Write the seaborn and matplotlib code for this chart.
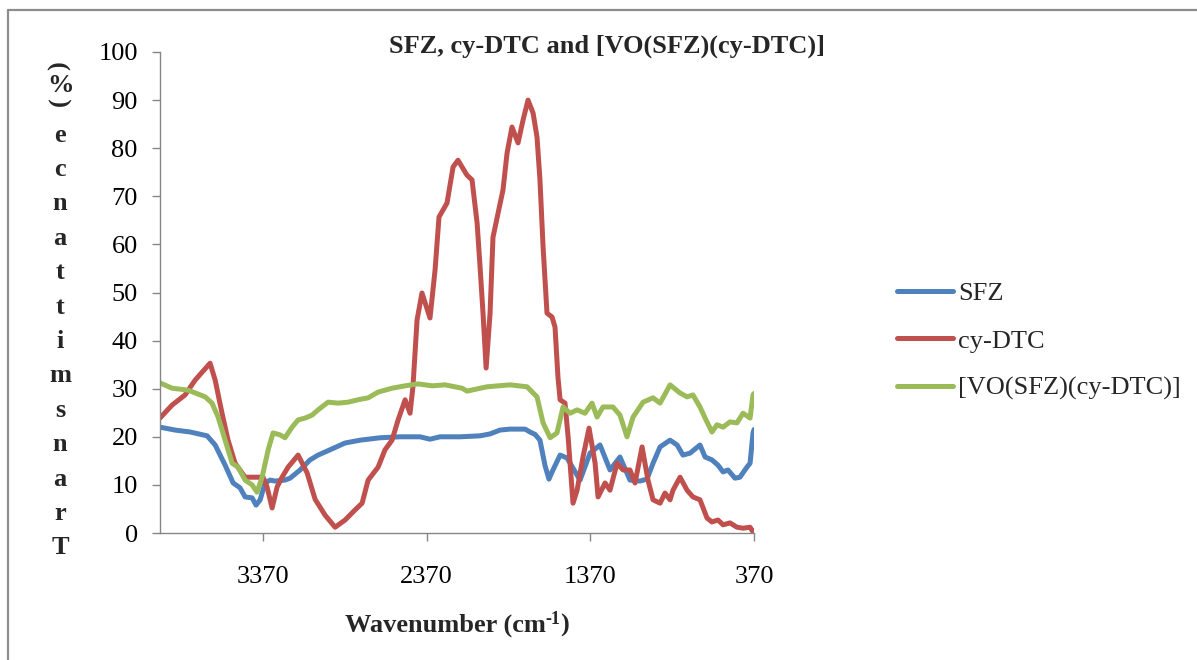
import numpy as np
import pandas as pd
import matplotlib
matplotlib.use("Agg")
import matplotlib.pyplot as plt
from matplotlib.lines import Line2D
import seaborn as sns

# ---- IR spectra: wavenumber (cm-1) and transmittance (%) ----
sfz_wn = [4000, 3908, 3816, 3712, 3663, 3602, 3553, 3511, 3480, 3437, 3413, 3388,
          3358, 3327, 3297, 3236, 3205, 3144, 3083, 3034, 2961, 2870, 2777, 2655,
          2533, 2411, 2350, 2289, 2166, 2044, 1983, 1922, 1861, 1769, 1739, 1708,
          1678, 1647, 1623, 1604, 1555, 1513, 1433, 1372, 1311, 1250, 1189, 1128,
          1067, 1024, 987, 944, 883, 840, 804, 761, 700, 669, 627, 590, 559, 529,
          486, 456, 413, 394, 376, 370]
sfz_t = [22.0, 21.4, 21.0, 20.2, 18.3, 14.1, 10.4, 9.4, 7.5, 7.3, 5.8, 6.9,
         10.4, 11.0, 10.8, 11.0, 11.4, 13.1, 15.2, 16.2, 17.3, 18.7, 19.3, 19.8,
         20.0, 20.0, 19.5, 20.0, 20.0, 20.2, 20.6, 21.4, 21.6, 21.6, 21.0, 20.5,
         19.3, 14.0, 11.2, 12.7, 16.2, 15.6, 11.0, 16.6, 18.3, 13.1, 15.8, 11.0,
         10.8, 11.2, 14.5, 17.9, 19.3, 18.3, 16.2, 16.6, 18.3, 15.8, 15.2, 14.1,
         12.7, 13.1, 11.4, 11.6, 13.7, 14.5, 20.8, 21.5]

dtc_wn = [4000, 3926, 3847, 3785, 3694, 3663, 3621, 3584, 3541, 3480, 3419, 3370,
          3346, 3315, 3284, 3254, 3217, 3156, 3101, 3052, 2991, 2930, 2869, 2808,
          2765, 2728, 2667, 2625, 2582, 2545, 2502, 2472, 2454, 2429, 2399, 2350,
          2319, 2295, 2246, 2209, 2179, 2124, 2093, 2062, 2044, 2026, 2007, 1983,
          1965, 1934, 1904, 1879, 1849, 1812, 1781, 1751, 1720, 1696, 1678, 1659,
          1635, 1604, 1586, 1568, 1555, 1525, 1506, 1476, 1451, 1415, 1378, 1341,
          1323, 1280, 1250, 1207, 1170, 1128, 1097, 1054, 1018, 987, 944, 914,
          883, 865, 822, 779, 743, 700, 657, 627, 590, 559, 517, 474, 437, 394,
          376, 370]
dtc_t = [23.9, 26.6, 28.7, 31.8, 35.3, 31.8, 24.9, 19.3, 14.5, 11.6, 11.6, 11.6,
         9.6, 5.2, 9.6, 11.6, 13.7, 16.2, 12.5, 7.0, 3.7, 1.2, 2.7, 4.8,
         6.2, 11.0, 13.7, 17.3, 19.3, 23.5, 27.7, 24.9, 30.5, 44.3, 49.9, 44.7,
         54.7, 65.7, 68.6, 76.1, 77.5, 74.4, 73.4, 64.4, 55.3, 45.7, 34.3, 45.7,
         61.5, 66.5, 71.3, 79.0, 84.4, 81.1, 85.9, 90.0, 87.3, 82.3, 73.4, 59.5,
         45.7, 44.9, 42.8, 32.4, 27.7, 27.0, 20.0, 6.2, 8.9, 15.8, 21.8, 14.5,
         7.5, 10.4, 8.9, 14.5, 13.1, 13.1, 10.4, 17.9, 11.0, 6.9, 6.2, 8.3,
         6.9, 8.9, 11.6, 8.9, 7.5, 6.9, 3.1, 2.3, 2.7, 1.7, 2.1, 1.2, 1.0, 1.2,
         0.2, 0.5]

complex_wn = [4000, 3926, 3828, 3724, 3682, 3645, 3602, 3559, 3523, 3480, 3437, 3407,
              3376, 3339, 3309, 3266, 3236, 3193, 3156, 3113, 3071, 3034, 2973, 2912,
              2851, 2790, 2728, 2667, 2582, 2502, 2423, 2337, 2258, 2154, 2124, 2001,
              1861, 1757, 1696, 1659, 1616, 1574, 1537, 1494, 1451, 1403, 1360, 1329,
              1293, 1232, 1189, 1146, 1109, 1048, 987, 944, 883, 822, 779, 743,
              700, 669, 627, 596, 559, 517, 474, 437, 394, 376, 370]
complex_t = [31.2, 30.1, 29.7, 28.3, 27.0, 24.1, 19.3, 14.5, 13.7, 11.0, 10.0, 8.5,
             11.6, 17.3, 20.8, 20.4, 19.8, 22.0, 23.5, 23.9, 24.5, 25.6, 27.2, 27.0,
             27.2, 27.7, 28.1, 29.3, 30.1, 30.6, 31.0, 30.6, 30.8, 30.1, 29.5, 30.4,
             30.8, 30.4, 28.3, 22.9, 19.8, 20.8, 26.2, 24.9, 25.6, 24.9, 27.0, 24.1,
             26.2, 26.2, 24.5, 20.0, 24.1, 27.2, 28.1, 27.0, 30.8, 29.1, 28.3, 28.7,
             26.2, 23.9, 21.0, 22.5, 22.0, 23.1, 22.9, 24.9, 23.9, 28.7, 29.0]

series_names = ["SFZ", "cy-DTC", "[VO(SFZ)(cy-DTC)]"]
x_ticks = [3370, 2370, 1370, 370]
y_ticks = list(range(0, 101, 10))

colors = ["#4F81BD", "#C0504D", "#9BBB59"]

sns.set_style("white")
plt.rcParams["font.family"] = ["Liberation Serif", "DejaVu Serif"]

W, H = 1197, 660
fig = plt.figure(figsize=(W / 100, H / 100), dpi=100)
fig.patch.set_facecolor("white")

def fx(px):
    return px / W

def fy(py):
    return 1 - py / H

ax = fig.add_axes([fx(160), fy(533), fx(754) - fx(160), fy(52) - fy(533)])

frames = [
    pd.DataFrame({"wn": sfz_wn, "t": sfz_t}),
    pd.DataFrame({"wn": dtc_wn, "t": dtc_t}),
    pd.DataFrame({"wn": complex_wn, "t": complex_t}),
]
LW = 3.6
for df, name, c in zip(frames, series_names, colors):
    sns.lineplot(data=df, x="wn", y="t", ax=ax, color=c, linewidth=LW,
                 label=name, sort=False, solid_capstyle="round",
                 solid_joinstyle="round")

ax.set_xlim(4000, 370)
ax.set_ylim(0, 100)
ax.set_xticks(x_ticks)
ax.set_xticklabels([str(v) for v in x_ticks])
ax.set_yticks(y_ticks)
ax.set_yticklabels([str(v) for v in y_ticks])
ax.set_xlabel("")
ax.set_ylabel("")

spine_color = "#868686"
for side in ["top", "right"]:
    ax.spines[side].set_visible(False)
for side in ["left", "bottom"]:
    ax.spines[side].set_color(spine_color)
    ax.spines[side].set_linewidth(1.0)
ax.tick_params(axis="both", which="major", direction="out", length=6,
               width=1.0, color=spine_color, labelsize=19, labelcolor="black",
               left=True, bottom=True)
ax.tick_params(axis="y", pad=10)
ax.tick_params(axis="x", pad=18)

# legend at the right of the plot
leg = ax.legend(loc="center left", bbox_to_anchor=(fx(884), fy(341)),
                bbox_transform=fig.transFigure, frameon=False, fontsize=19,
                handlelength=2.1, handletextpad=0.2, labelspacing=0.9,
                borderpad=0.0)
for h in leg.get_lines():
    h.set_linewidth(LW)

# title
fig.text(fx(607), fy(46), "SFZ, cy-DTC and [VO(SFZ)(cy-DTC)]", ha="center",
         va="center", fontsize=19, fontweight="bold")

# x-axis title with a raised "-1"
fig.canvas.draw()
renderer = fig.canvas.get_renderer()
parts = [("Wavenumber (cm", 19, 0), ("-1", 13, 8), (")", 19, 0)]
widths = []
for txt, fs, _ in parts:
    t = fig.text(0, 0, txt, fontsize=fs, fontweight="bold")
    widths.append(t.get_window_extent(renderer).width)
    t.remove()
total = sum(widths)
x0 = 457 - total / 2
base_y = 632
for (txt, fs, rise), w in zip(parts, widths):
    fig.text(fx(x0), fy(base_y + 0) + rise / H, txt, ha="left", va="baseline",
             fontsize=fs, fontweight="bold")
    x0 += w

# stacked y-axis title, letters upright, reading upward
ylab_chars = list("Transmittance")
y_bottom = 548
step = 34.4
for i, ch in enumerate(ylab_chars):
    fig.text(fx(60), fy(y_bottom - i * step), ch, ha="center", va="center",
             fontsize=19, fontweight="bold")
fig.text(fx(60), fy(102), "(", ha="center", va="center", fontsize=19,
         fontweight="bold", rotation=90)
fig.text(fx(60), fy(86), "%", ha="center", va="center", fontsize=19,
         fontweight="bold")
fig.text(fx(60), fy(66), ")", ha="center", va="center", fontsize=19,
         fontweight="bold", rotation=90)

# chart-area border (left and top edges)
border = "#8c8c8c"
fig.add_artist(Line2D([fx(8), fx(8)], [fy(10), 0], color=border, lw=1.6,
                      transform=fig.transFigure))
fig.add_artist(Line2D([fx(8), 1], [fy(10), fy(10)], color=border, lw=1.6,
                      transform=fig.transFigure))

fig.savefig("out.png", dpi=100, facecolor="white")
